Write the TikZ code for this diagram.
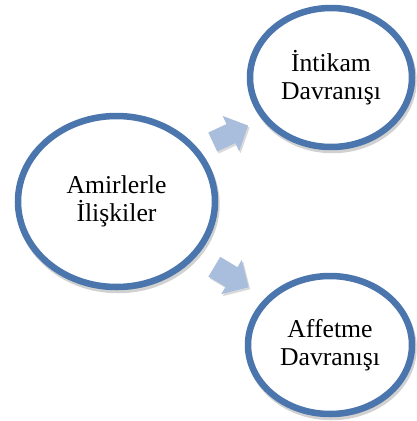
\documentclass[tikz,border=0pt]{standalone}
\usepackage{fontspec}
\setmainfont{Liberation Serif}
\usetikzlibrary{shapes.geometric,shadows}
\definecolor{ringblue}{HTML}{4A75AD}
\definecolor{arrowblue}{HTML}{A9BEDC}
\tikzset{
  bubble/.style={ellipse, draw=ringblue, line width=6.5pt, fill=white, inner sep=0pt,
    align=center, font=\fontsize{25.7}{28.5}\selectfont,
    drop shadow={draw=black, fill=black, line width=6.5pt, opacity=0.18,
      shadow xshift=1.5pt, shadow yshift=-3pt}},
  blockarrow/.style={fill=arrowblue,
    drop shadow={fill=black, opacity=0.15, shadow xshift=1.5pt, shadow yshift=-2pt}}
}
\begin{document}
\begin{tikzpicture}[x=1pt,y=-1pt]
  \useasboundingbox (0,0) rectangle (416,421);

  % central topic and the two outcomes
  \node[bubble, minimum width=197pt, minimum height=171pt] (rel) at (116.5,201.5)
    {Amirlerle\\İlişkiler};
  \node[bubble, minimum width=162pt, minimum height=139pt] (rev) at (331,77.5)
    {İntikam\\Davranışı};
  \node[bubble, minimum width=164pt, minimum height=138pt] (forg) at (330,345)
    {Affetme\\Davranışı};

  % block arrows from the centre towards each outcome
  \coordinate (up) at (230,134);
  \coordinate (down) at (231.5,277);
  \begin{scope}[shift={(up)}, rotate=25]
    \path[blockarrow] (-19,-10.5) -- (1,-10.5) -- (1,-19.5) -- (20,0)
      -- (1,19.5) -- (1,10.5) -- (-19,10.5) -- cycle;
  \end{scope}
  \begin{scope}[shift={(down)}, rotate=-31]
    \path[blockarrow] (-20,-11.5) -- (0,-11.5) -- (0,-20) -- (20,0)
      -- (0,20) -- (0,11.5) -- (-20,11.5) -- cycle;
  \end{scope}
\end{tikzpicture}
\end{document}
